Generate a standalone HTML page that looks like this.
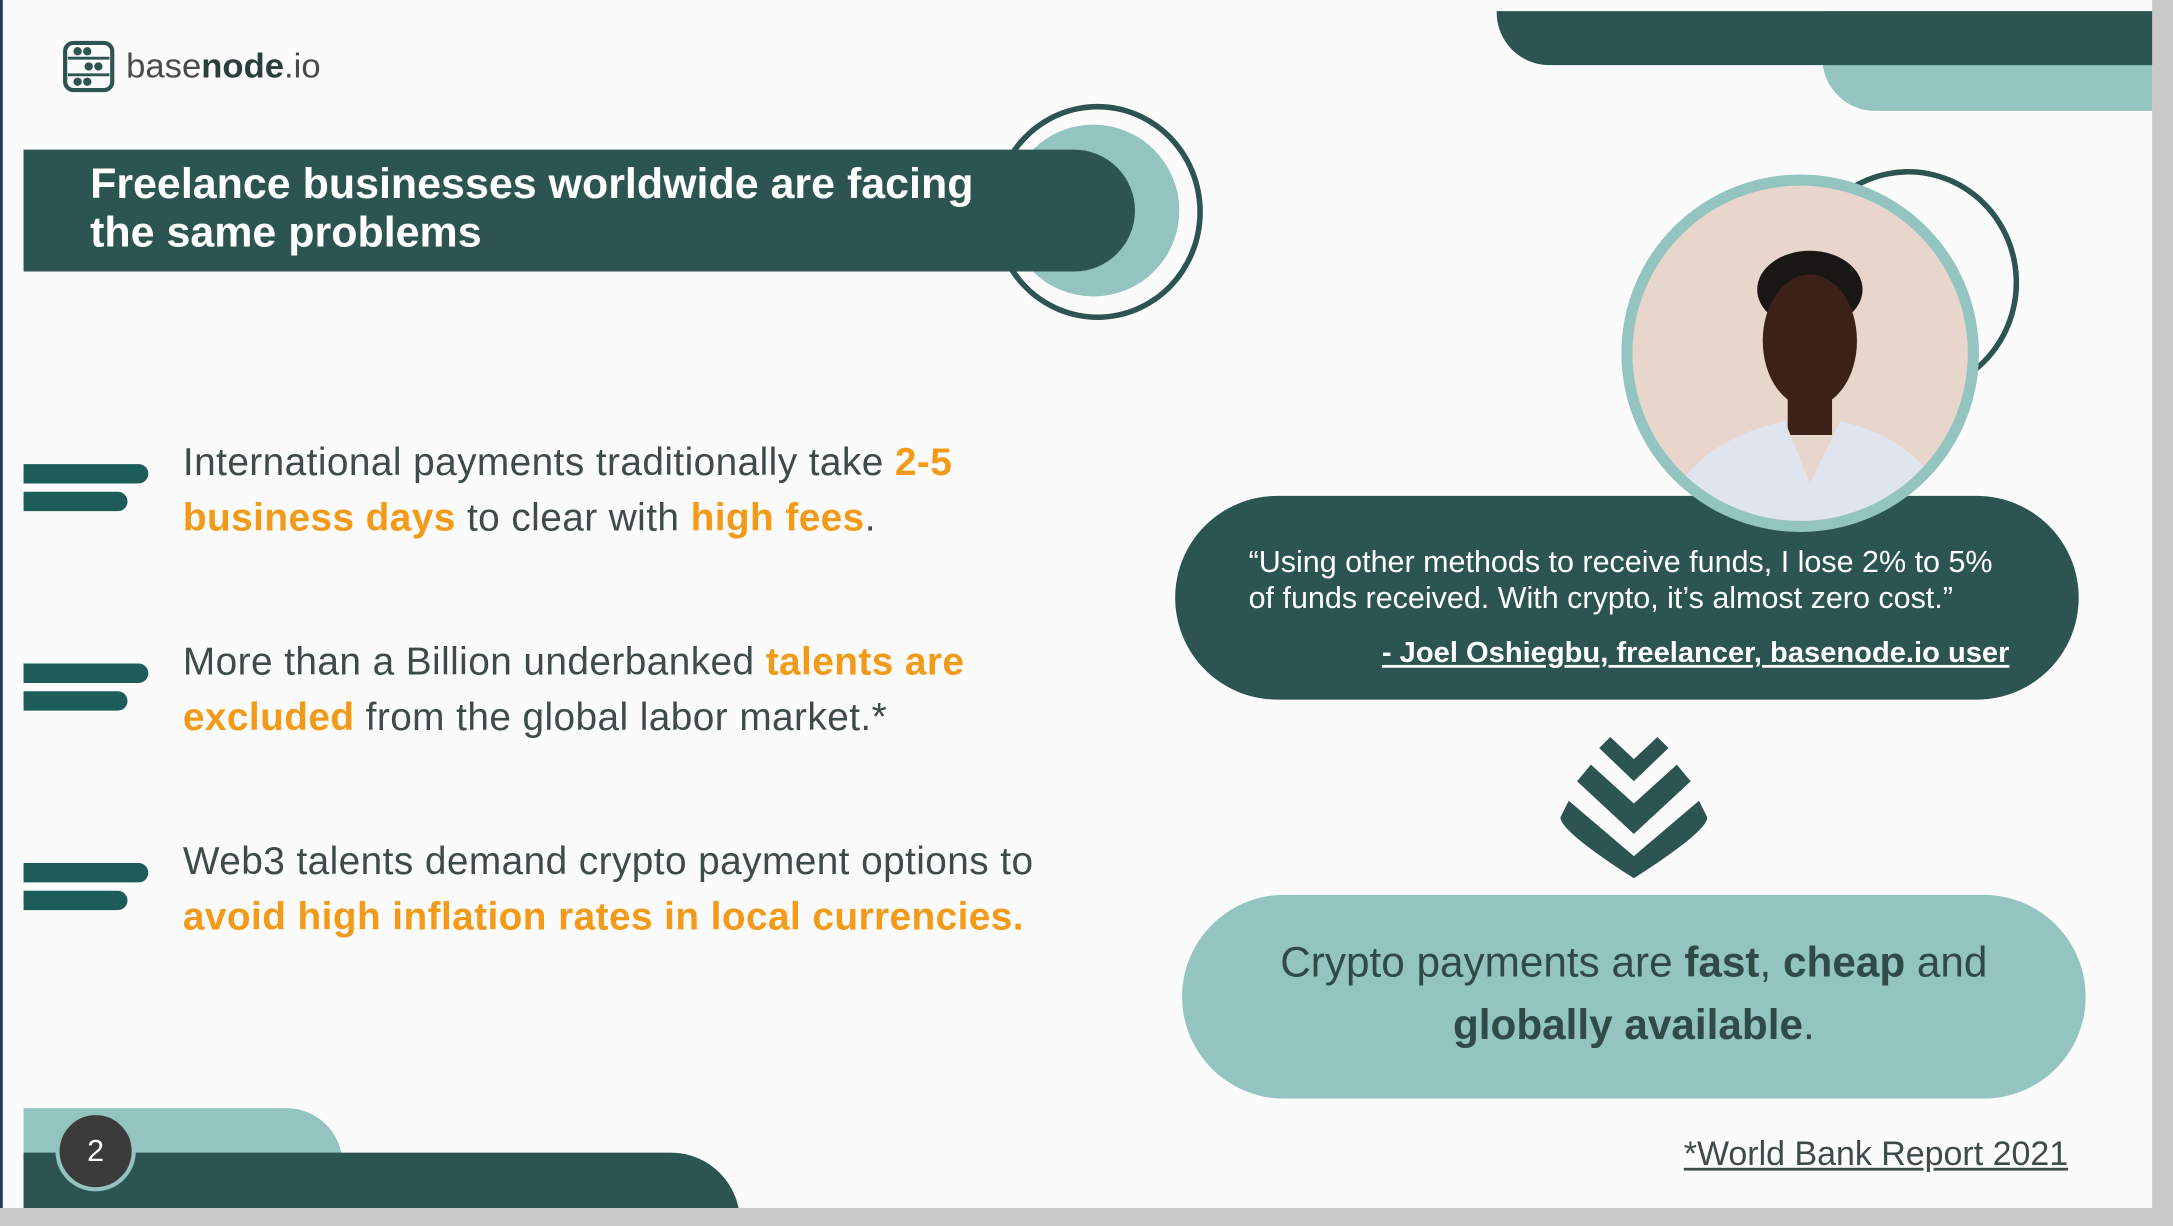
<!DOCTYPE html>
<html><head><meta charset="utf-8"><style>
html,body{margin:0;padding:0;background:#cfcfcf;overflow:hidden}
#stage{position:absolute;left:0;top:0;width:1568px;height:885px;transform:scale(1.3858,1.3853);transform-origin:0 0;background:#c9c9c9;font-family:"Liberation Sans",sans-serif}
#slide{position:absolute;left:0;top:0;width:1553px;height:872px;background:#fbfbfb;overflow:hidden;border-left:2px solid #203a55;box-sizing:border-box}
.a{position:absolute}
.t{position:absolute;color:#3e4b4a;font-size:28px;line-height:40px;white-space:nowrap;letter-spacing:0.3px}
.o{color:#f39a18;font-weight:bold}
.bar{position:absolute;background:#1c5d5a;border-radius:0 8px 8px 0}
</style></head><body>
<div id="stage">
<div id="slide">
  <div class="a" style="left:1313px;top:8px;width:240px;height:72px;background:#93c4c0;border-radius:0 0 0 38px"></div>
  <div class="a" style="left:1078px;top:8px;width:475px;height:39px;background:#2c5552;border-radius:0 0 0 38px"></div>

  <svg class="a" style="left:43px;top:29px" width="38" height="38">
    <rect x="2" y="2" width="34" height="34" rx="6" fill="none" stroke="#2c5552" stroke-width="3"/>
    <line x1="4" y1="13" x2="34" y2="13" stroke="#2c5552" stroke-width="2"/><line x1="4" y1="25" x2="34" y2="25" stroke="#2c5552" stroke-width="2"/>
    <circle cx="11" cy="8" r="3" fill="#2c5552"/><circle cx="18" cy="8" r="3" fill="#2c5552"/>
    <circle cx="19" cy="19" r="3" fill="#2c5552"/><circle cx="26" cy="19" r="3" fill="#2c5552"/>
    <circle cx="11" cy="30" r="3" fill="#2c5552"/><circle cx="18" cy="30" r="3" fill="#2c5552"/>
  </svg>
  <div class="a" style="left:89px;top:34px;font-size:25px;color:#4a4a4a">base<b style="color:#2c3e3c">node</b>.io</div>

  <div class="a" style="left:714px;top:75px;width:144px;height:148px;border:4px solid #2c5552;border-radius:50%"></div>
  <div class="a" style="left:725px;top:90px;width:124px;height:124px;background:#93c4c0;border-radius:50%"></div>
  <div class="a" style="left:15px;top:108px;width:802px;height:88px;background:#2c5552;border-radius:0 44px 44px 0"></div>
  <div class="a" style="left:63px;top:115px;color:#fff;font-weight:bold;font-size:31px;line-height:35px;white-space:nowrap">Freelance businesses worldwide are facing<br>the same problems</div>

  <div class="bar" style="left:15px;top:335px;width:90px;height:14px"></div>
  <div class="bar" style="left:15px;top:355px;width:75px;height:14px"></div>
  <div class="t" style="left:130px;top:314px">International payments traditionally take <span class="o">2-5</span><br><span class="o">business days</span> to clear with <span class="o">high fees</span>.</div>

  <div class="bar" style="left:15px;top:479px;width:90px;height:14px"></div>
  <div class="bar" style="left:15px;top:499px;width:75px;height:14px"></div>
  <div class="t" style="left:130px;top:458px">More than a Billion underbanked <span class="o">talents are</span><br><span class="o">excluded</span> from the global labor market.*</div>

  <div class="bar" style="left:15px;top:623px;width:90px;height:14px"></div>
  <div class="bar" style="left:15px;top:643px;width:75px;height:14px"></div>
  <div class="t" style="left:130px;top:602px">Web3 talents demand crypto payment options to<br><span class="o">avoid high inflation rates in local currencies.</span></div>

  <div class="a" style="left:1295px;top:122px;width:152px;height:156px;border:4px solid #2c5552;border-radius:50%"></div>

  <div class="a" style="left:846px;top:358px;width:652px;height:147px;background:#2c5552;border-radius:74px"></div>

  <div class="a" style="left:1168px;top:126px;width:242px;height:242px;border:8px solid #93c4c0;border-radius:50%;overflow:hidden;background:#e8d6cc">
    <svg width="242" height="242">
      <ellipse cx="128" cy="75" rx="38" ry="28" fill="#1a1614"/>
      <ellipse cx="128" cy="112" rx="34" ry="48" fill="#3a2218"/>
      <rect x="112" y="150" width="32" height="30" fill="#3a2218"/>
      <path d="M20 242 Q40 185 110 170 L128 215 L150 170 Q215 185 232 242 Z" fill="#dfe4ee"/>
    </svg>
  </div>

  <div class="a" style="left:899px;top:393px;color:#fff;font-size:22px;line-height:26px;white-space:nowrap">“Using other methods to receive funds, I lose 2% to 5%<br>of funds received. With crypto, it’s almost zero cost.”</div>
  <div class="a" style="left:850px;width:598px;top:460px;text-align:right;color:#fff;font-size:21px;font-weight:bold;text-decoration:underline;white-space:nowrap">- Joel Oshiegbu, freelancer, basenode.io user</div>

  <svg class="a" style="left:1122px;top:528px" width="110" height="108">
    <path d="M38 4 L55 20 L72 4 L80 12 L55 36 L30 12 Z" fill="#2c5552"/>
    <path d="M24 24 L55 52 L86 24 L96 36 L55 74 L14 36 Z" fill="#2c5552"/>
    <path d="M8 50 L55 90 L102 50 L108 62 Q108 72 55 106 Q2 72 2 62 Z" fill="#2c5552"/>
  </svg>

  <div class="a" style="left:851px;top:646px;width:652px;height:147px;background:#93c4c0;border-radius:74px"></div>
  <div class="a" style="left:851px;width:652px;top:673px;text-align:center;color:#2f4a47;font-size:30.5px;line-height:45px">Crypto payments are <b>fast</b>, <b>cheap</b> and<br><b>globally available</b>.</div>

  <div class="a" style="left:15px;top:800px;width:230px;height:80px;background:#93c4c0;border-radius:0 40px 0 0"></div>
  <div class="a" style="left:15px;top:832px;width:517px;height:50px;background:#2c5552;border-radius:0 50px 0 0"></div>
  <div class="a" style="left:38px;top:802px;width:52px;height:52px;border-radius:50%;background:#3b3b3b;border:3px solid #93c4c0;color:#fff;font-size:22px;line-height:52px;text-align:center">2</div>

  <div class="a" style="left:1213px;top:820px;font-size:24.5px;color:#3e4b4a;text-decoration:underline;white-space:nowrap">*World Bank Report 2021</div>
</div>
</div>
</body></html>
